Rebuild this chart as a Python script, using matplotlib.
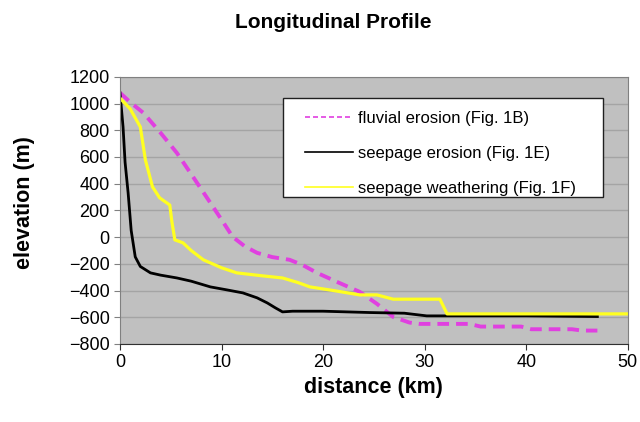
import matplotlib
matplotlib.use("Agg")
import matplotlib.pyplot as plt
from matplotlib.patches import Rectangle

plt.rcParams['font.family'] = ['Liberation Sans', 'DejaVu Sans']

# fluvial erosion (Fig. 1B)
fluv_x = [0, 1, 2.3, 4, 5.6, 7.2, 8.9, 10, 11.1, 12.3, 13.5, 15, 16.7, 18, 19.4, 21.5, 23.6, 25.3, 26.9,
          28.5, 29.5, 34.4, 35.5, 39.5, 40.5, 44.5, 45.5, 47]
fluv_y = [1080, 1010, 930, 780, 630, 450, 256, 130, 1, -70, -118, -150, -170, -210, -268, -340, -410, -500, -598,
          -640, -650, -650, -670, -670, -690, -690, -700, -700]

# seepage erosion (Fig. 1E)
seep_x = [0, 0.3, 0.5, 0.8, 1.1, 1.5, 2, 3, 4, 5.6, 7, 8.9, 10.5, 12.1, 13.5, 14.5, 15.3, 16, 17, 20, 24.6,
          28, 30.2, 31.5, 35, 40, 47]
seep_y = [1080, 825, 560, 331, 50, -148, -220, -268, -285, -306, -330, -373, -395, -418, -455, -493, -530, -560,
          -555, -555, -565, -570, -590, -590, -590, -590, -595]

# seepage weathering (Fig. 1F)
weat_x = [0, 1, 2, 2.5, 3.2, 3.9, 4.9, 5.1, 5.4, 6.2, 7, 8.2, 10, 11.5, 14, 16, 17.5, 18.7, 21, 23.6, 25.3,
          26.9, 31.5, 32.2, 40, 50]
weat_y = [1040, 960, 825, 578, 376, 294, 240, 120, -21, -43, -100, -170, -230, -268, -290, -306, -340, -373,
          -400, -433, -433, -465, -465, -575, -575, -575]

fig, ax = plt.subplots(figsize=(6.4, 4.22), dpi=100)
fig.subplots_adjust(left=0.1875, right=0.981, top=0.818, bottom=0.185)

ax.set_facecolor('#c0c0c0')
ax.plot(fluv_x, fluv_y, color='#e040e0', lw=2.8, ls=(0, (3, 1.8)), label='fluvial erosion (Fig. 1B)')
ax.plot(seep_x, seep_y, color='black', lw=2, label='seepage erosion (Fig. 1E)')
ax.plot(weat_x, weat_y, color='#ffff20', lw=2.3, label='seepage weathering (Fig. 1F)')

ax.set_xlim(0, 50)
ax.set_ylim(-800, 1200)
ax.set_yticks(range(-800, 1201, 200))
ax.set_xticks(range(0, 51, 10))
ax.yaxis.grid(True, color='#a4a4a4', lw=1)
ax.set_axisbelow(True)
for s in ax.spines.values():
    s.set_color('#808080')
ax.spines['bottom'].set_color('#303030')
ax.tick_params(axis='both', labelsize=13, direction='out', length=4)
ax.tick_params(axis='y', color='#808080')
ax.tick_params(axis='x', color='#303030')

ax.set_xlabel('distance (km)', fontsize=15.5, fontweight='bold')
ax.set_ylabel('elevation (m)', fontsize=15.5, fontweight='bold')
ax.yaxis.set_label_coords(-0.168, 0.528)
fig.suptitle('Longitudinal Profile', fontsize=15, fontweight='bold', x=0.52, y=0.97)

# legend box (white, thin black frame), legend entries drawn without frame on top
ax.add_patch(Rectangle((0.321, 0.551), 0.63, 0.37, transform=ax.transAxes,
                       facecolor='white', edgecolor='#202020', lw=1, zorder=4))
leg = ax.legend(loc='upper left', bbox_to_anchor=(0.364, 0.872), fontsize=12, frameon=False,
                handlelength=2.9, handletextpad=0.3, labelspacing=1.19, borderpad=0, borderaxespad=0)
leg.set_zorder(5)
for line in leg.get_lines():
    line.set_linewidth(1.2)

fig.savefig('out.png', dpi=100)
